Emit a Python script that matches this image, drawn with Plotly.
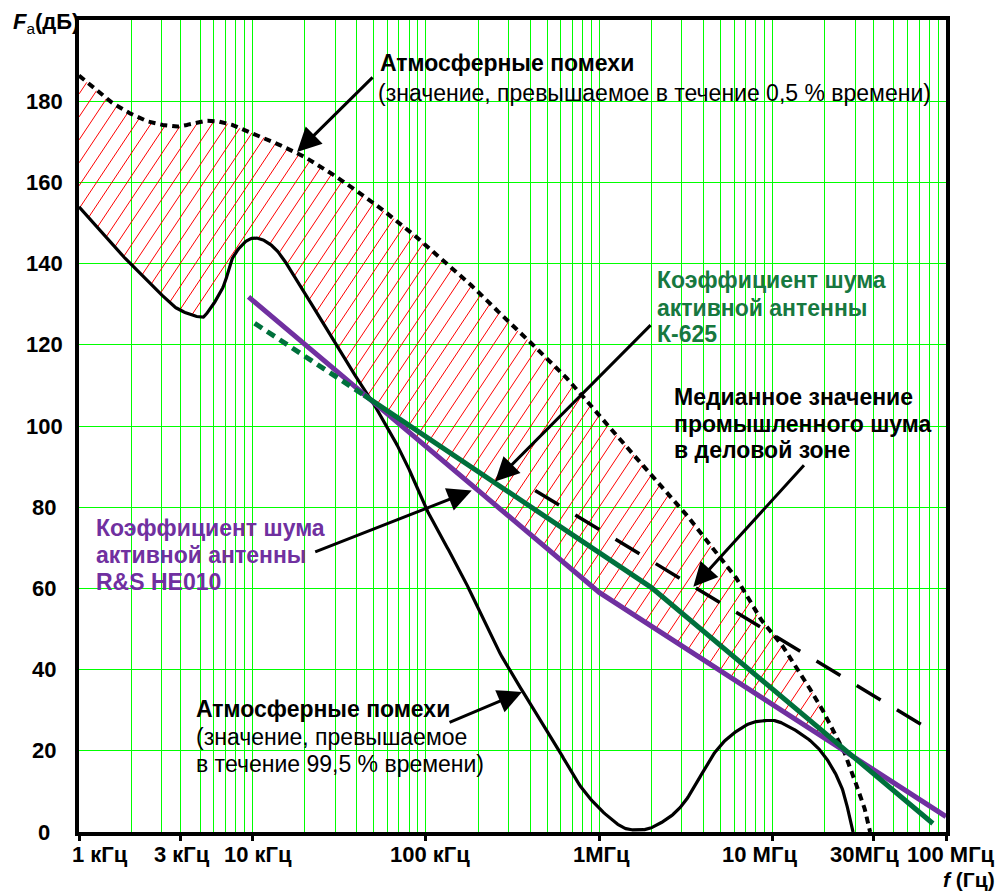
import numpy as np
import plotly.graph_objects as go

# ---------------- data ----------------
# Atmospheric noise, value exceeded 0.5 % of time (dotted, upper)
ATM_HIGH_F = [1.0e3, 1.32e3, 1.58e3, 1.97e3, 2.46e3, 3.2e3, 3.82e3, 5.44e3, 7.22e3, 8.83e3,
              1.15e4, 1.44e4, 1.83e4, 2.68e4, 3.33e4, 4.06e4, 7.1e4, 1.35e5, 2.01e5, 3.06e5,
              4.56e5, 6.93e5, 1.01e6, 1.44e6, 2.05e6, 2.92e6, 4.36e6, 5.93e6, 8.09e6, 1.01e7,
              1.15e7, 1.44e7, 1.8e7, 2.24e7, 2.56e7, 2.92e7, 3.33e7, 3.65e7]
ATM_HIGH_DB = [186.3, 181.9, 179.4, 177.0, 175.1, 174.0, 173.8, 175.2, 174.5, 173.0,
               171.2, 169.2, 167.2, 163.0, 160.1, 157.7, 149.9, 139.7, 133.0, 125.3,
               118.3, 110.5, 102.3, 94.9, 87.5, 80.1, 70.7, 63.7, 53.8, 48.9,
               45.6, 39.0, 32.5, 25.1, 20.2, 13.6, 7.0, 0.0]

# Atmospheric noise, value exceeded 99.5 % of time (solid black, lower)
ATM_LOW_F = [1.0e3, 1.5e3, 2.06e3, 2.93e3, 3.66e3, 4.87e3, 5.45e3, 6.79e3, 7.76e3, 9.9e3,
             1.32e4, 1.8e4, 3.34e4, 4.98e4, 7.41e4, 1.01e5, 1.64e5, 2.68e5, 5.2e5, 8.1e5,
             1.26e6, 1.64e6, 2.15e6, 3.06e6, 4.76e6, 6.78e6, 8.84e6, 1.15e7, 1.8e7, 2.45e7,
             2.86e7, 2.91e7]
ATM_LOW_DB = [154.0, 145.4, 139.2, 132.7, 129.0, 126.9, 127.7, 134.3, 141.7, 146.2,
              144.1, 136.0, 117.0, 105.6, 92.4, 79.5, 62.8, 44.0, 23.9, 10.3,
              2.1, 0.5, 1.7, 7.0, 20.2, 25.9, 27.4, 26.7, 21.0, 12.0,
              1.3, 0.0]

# Active antenna R&S HE010 noise factor (purple)
RS_F = [9.5e3, 1.0e6, 1.0e8]
RS_DB = [131.8, 59.0, 3.8]

# Active antenna K-625 noise factor (green): dashed part + solid part
K625_DASH_F = [1.03e4, 4.4e4]
K625_DASH_DB = [125.3, 107.6]
K625_F = [4.4e4, 2.0e6, 8.4e7]
K625_DB = [107.6, 60.2, 2.1]

# Median man-made noise, business area (long dashes)
IND_F = [4.27e5, 8.65e7]
IND_DB = [84.1, 24.4]

X_TICK_VALS = [1e3, 3.85e3, 1e4, 1e5, 1e6, 1e7, 3.8e7, 1e8]
X_TICK_TEXT = ["1 кГц", "3 кГц", "10 кГц", "100 кГц", "1МГц", "10 МГц", "30МГц", "100 МГц"]
X_TICK_SHIFT = [21, 1, 6, 4, 2, -13, -9, 5]
Y_TICK_VALS = [0, 20, 40, 60, 80, 100, 120, 140, 160, 180]

# ---------------- helpers ----------------
PX_L, PX_R, PX_T, PX_B = 79, 946, 20, 832
W, H = 1000, 891
FONT = "Arial, Liberation Sans, sans-serif"
LIME = "#00FF00"
PURPLE = "#7030A0"
GREEN = "#00703C"
GREEN_TXT = "#17783F"
TXT = 23
TICK = 22


def catmull(fs, vs, n=24):
    P = np.column_stack([np.log10(np.asarray(fs, float)), np.asarray(vs, float)])
    P = np.vstack([2 * P[0] - P[1], P, 2 * P[-1] - P[-2]])
    t = np.linspace(0, 1, n, endpoint=False)[:, None]
    segs = []
    for i in range(1, len(P) - 2):
        p0, p1, p2, p3 = P[i - 1], P[i], P[i + 1], P[i + 2]
        seg = 0.5 * ((2 * p1) + (-p0 + p2) * t + (2 * p0 - 5 * p1 + 4 * p2 - p3) * t ** 2
                     + (-p0 + 3 * p1 - 3 * p2 + p3) * t ** 3)
        segs.append(seg)
    segs.append(P[-2][None, :])
    D = np.vstack(segs)
    lx = np.maximum.accumulate(D[:, 0])
    return lx, D[:, 1]


def px2paper(px, py):
    return (px - PX_L) / (PX_R - PX_L), (PX_B - py) / (PX_B - PX_T)


hi_lx, hi_y = catmull(ATM_HIGH_F, ATM_HIGH_DB)
lo_lx, lo_y = catmull(ATM_LOW_F, ATM_LOW_DB)

# hatched region: between the 0.5 % curve and max(99.5 % curve, R&S line)
grid = np.linspace(3, np.log10(3.0e7), 1200)
up = np.interp(grid, hi_lx, hi_y)
low_b = np.interp(grid, lo_lx, lo_y)
rs_lx = np.log10(RS_F)
low_p = np.where(grid >= rs_lx[0], np.interp(grid, rs_lx, RS_DB), -1e9)
low = np.maximum(low_b, low_p)

# hatch lines (slope 1.5 px/px, 15.3 px apart horizontally), clipped to the region
ppdec = (PX_R - PX_L) / 5.0
ppdb = (PX_B - PX_T) / 200.0
k = ppdb / 1.5 / ppdec
step = 15.3 / ppdec
vs = np.arange(0, 200, 0.04)
hx, hy = [], []
a = 3 - k * 200 + 0.02
while a < grid[-1]:
    lf = a + k * vs
    inside = (lf >= grid[0]) & (lf <= grid[-1])
    u = np.interp(lf, grid, up)
    lw = np.interp(lf, grid, low)
    inside &= (vs >= lw) & (vs <= u)
    idx = np.flatnonzero(inside)
    if idx.size:
        splits = np.where(np.diff(idx) > 1)[0] + 1
        for run in np.split(idx, splits):
            if run.size > 1:
                hx += [10 ** lf[run[0]], 10 ** lf[run[-1]], None]
                hy += [vs[run[0]], vs[run[-1]], None]
    a += step

fig = go.Figure()

fig.add_trace(go.Scatter(x=hx, y=hy, mode="lines", line=dict(color="#FF0000", width=1),
                         hoverinfo="skip"))
fig.add_trace(go.Scatter(x=10 ** hi_lx, y=hi_y, mode="lines",
                         line=dict(color="black", width=4, dash="7px,5px")))
fig.add_trace(go.Scatter(x=10 ** lo_lx, y=lo_y, mode="lines",
                         line=dict(color="black", width=3.2)))
fig.add_trace(go.Scatter(x=IND_F, y=IND_DB, mode="lines",
                         line=dict(color="black", width=3.5, dash="28px,19px")))
fig.add_trace(go.Scatter(x=RS_F, y=RS_DB, mode="lines",
                         line=dict(color=PURPLE, width=5)))
fig.add_trace(go.Scatter(x=K625_DASH_F, y=K625_DASH_DB, mode="lines",
                         line=dict(color=GREEN, width=5, dash="9px,6px")))
fig.add_trace(go.Scatter(x=K625_F, y=K625_DB, mode="lines",
                         line=dict(color=GREEN, width=5)))

minor_vals = [kk * 10 ** d for d in range(3, 8) for kk in range(2, 10)
              if not (kk == 4 and d in (3, 7))]

fig.update_layout(
    width=W, height=H,
    margin=dict(l=PX_L, r=W - PX_R, t=PX_T, b=H - PX_B),
    plot_bgcolor="white", paper_bgcolor="white",
    showlegend=False,
    font=dict(family=FONT, size=TICK, color="black"),
    xaxis=dict(type="log", range=[3, 8], tickvals=X_TICK_VALS, showticklabels=False,
               ticks="outside", ticklen=5, tickwidth=3, tickcolor="black",
               showgrid=True, gridcolor=LIME, gridwidth=1,
               minor=dict(tickvals=minor_vals, showgrid=True, gridcolor=LIME, gridwidth=1, ticks=""),
               showline=True, linewidth=4, linecolor="black", mirror=True, zeroline=False),
    yaxis=dict(range=[0, 200], tickvals=list(range(0, 201, 20)), showticklabels=False,
               ticks="", showgrid=True, gridcolor=LIME, gridwidth=1,
               showline=True, linewidth=4, linecolor="black", mirror=True, zeroline=False),
)

ann = []
# x tick labels
for v, t, s in zip(X_TICK_VALS, X_TICK_TEXT, X_TICK_SHIFT):
    ann.append(dict(x=np.log10(v), xref="x", y=0, yref="paper", yanchor="top", yshift=-8,
                    xshift=s, text="<b>" + t + "</b>", showarrow=False,
                    font=dict(size=TICK, family=FONT, color="black")))
# y tick labels
for v in Y_TICK_VALS:
    ann.append(dict(x=(44 - PX_L) / (PX_R - PX_L), xref="paper", y=v, yref="y",
                    xanchor="center", yanchor="middle", text="<b>%d</b>" % v,
                    showarrow=False, font=dict(size=TICK, family=FONT, color="black")))

# axis titles
px_, py_ = px2paper(11, 23)
ann.append(dict(x=px_, y=py_, xref="paper", yref="paper", xanchor="left", yanchor="middle",
                text="<b><i>F</i></b><sub>a</sub><b>(дБ)</b>", showarrow=False,
                font=dict(size=TICK, family=FONT, color="black")))
px_, py_ = px2paper(941, 880)
ann.append(dict(x=px_, y=py_, xref="paper", yref="paper", xanchor="left", yanchor="middle",
                text="<b><i>f</i> (Гц)</b>", showarrow=False,
                font=dict(size=TICK - 1, family=FONT, color="black")))


def text_line(px, py, txt, color="black", bold=True, size=TXT):
    x_, y_ = px2paper(px, py)
    t = "<b>" + txt + "</b>" if bold else txt
    ann.append(dict(x=x_, y=y_, xref="paper", yref="paper", xanchor="left", yanchor="middle",
                    text=t, showarrow=False, font=dict(size=size, family=FONT, color=color)))


text_line(378, 63, "Атмосферные помехи")
text_line(376, 93, "(значение, превышаемое в течение 0,5 % времени)", bold=False)

text_line(655, 280, "Коэффициент шума", GREEN_TXT)
text_line(655, 308, "активной антенны", GREEN_TXT)
text_line(655, 334, "К-625", GREEN_TXT)

text_line(672, 397, "Медианное значение")
text_line(672, 424, "промышленного шума")
text_line(672, 450, "в деловой зоне")

text_line(94, 528, "Коэффициент шума", PURPLE)
text_line(94, 555, "активной антенны", PURPLE)
text_line(94, 582, "R&amp;S HE010", PURPLE)

text_line(194, 709, "Атмосферные помехи")
text_line(194, 737, "(значение, превышаемое", bold=False)
text_line(194, 764, "в течение 99,5 % времени)", bold=False)

# arrows: (head frequency, head dB, tail dx px, tail dy px)
ARROWS = [(1.81e4, 167.5, 77, -76),
          (2.51e5, 86.3, 157, -158),
          (3.49e6, 60.4, 112, -123),
          (1.84e5, 84.1, -158, 62),
          (3.59e5, 34.5, -74, 31)]
for f, v, dx, dy in ARROWS:
    ann.append(dict(x=np.log10(f), y=v, xref="x", yref="y", ax=dx, ay=dy,
                    axref="pixel", ayref="pixel", text="", showarrow=True,
                    arrowhead=2, arrowsize=1.6, arrowwidth=3, arrowcolor="black", standoff=0))

fig.update_layout(annotations=ann)
fig.write_html("out.html")
